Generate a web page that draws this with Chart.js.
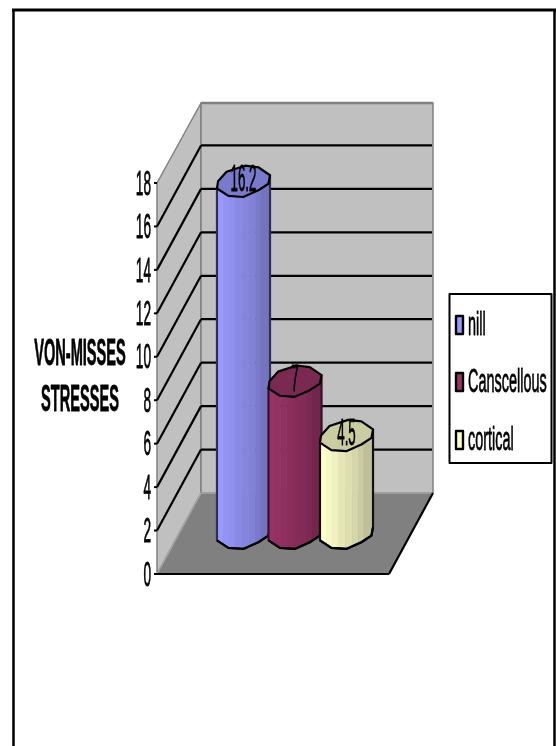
<!DOCTYPE html>
<html>
<head>
<meta charset="utf-8">
<title>Von-Misses stresses</title>
<script src="https://cdn.jsdelivr.net/npm/chart.js@4/dist/chart.umd.min.js"></script>
<style>
	html, body { margin: 0; padding: 0; background: #fff; }
	canvas { display: block; }
</style>
</head>
<body>
<canvas id="chart1" width="556" height="746"></canvas>
<script>
'use strict';

var categories = [''];
var seriesNames = ['nill', 'Canscellous', 'cortical'];
var nillValues = [16.2];
var canscellousValues = [7];
var corticalValues = [4.5];
var axisTitleLines = ['VON-MISSES', 'STRESSES'];
var yMax = 18;
var yStep = 2;

var SERIES_COLORS = ['#9999ff', '#993366', '#ffffcc'];
var SIDE_LINE_COLORS = ['#2f2f55', '#3a1228', '#111111'];
var FONT_FAMILY = '"Liberation Sans", Arial, sans-serif';

// how far the back wall sits from the front plane
var DEPTH_X = 44;
var DEPTH_Y = 81;

// outline of a cylinder end, in units of half the bar width
var CAP_SHAPE = [
	[-1, 0.26], [-0.96, -0.01], [-0.64, -0.37], [0.06, -0.6], [0.56, -0.54],
	[1, -0.24], [0.94, 0.08], [0.56, 0.33], [-0.01, 0.58], [-0.57, 0.54]
];
// facet edges across the cylinder and the shade of each facet
var FACET_EDGES = [0, 0.114, 0.22, 0.335, 0.475, 0.608, 0.72, 0.82, 1];
var FACET_SHADES = [1, 0.97, 0.94, 0.9, 0.87, 0.84, 0.8, 0.75];

var shade = function(hex, f) {
	var n = parseInt(hex.slice(1), 16);
	var r = Math.round((n >> 16 & 255) * f);
	var g = Math.round((n >> 8 & 255) * f);
	var b = Math.round((n & 255) * f);
	return 'rgb(' + r + ',' + g + ',' + b + ')';
};

// text here is tall and very condensed, canvas fonts cannot do that alone
var narrowText = function(ctx, text, x, y, size, squeeze, align, bold) {
	ctx.save();
	ctx.translate(x, y);
	ctx.scale(squeeze, 1);
	ctx.font = (bold ? 'bold ' : '') + size + 'px ' + FONT_FAMILY;
	ctx.textAlign = align;
	ctx.textBaseline = 'middle';
	ctx.fillStyle = '#000';
	ctx.strokeStyle = '#000';
	ctx.lineWidth = 0.8;
	ctx.fillText(text, 0, 0);
	ctx.strokeText(text, 0, 0);
	ctx.restore();
};

var line = function(ctx, x1, y1, x2, y2, color, width) {
	ctx.strokeStyle = color;
	ctx.lineWidth = width;
	ctx.beginPath();
	ctx.moveTo(x1, y1);
	ctx.lineTo(x2, y2);
	ctx.stroke();
};

var polygon = function(ctx, pts, fill, stroke, width) {
	ctx.beginPath();
	pts.forEach(function(p, i) {
		if (i === 0) ctx.moveTo(p[0], p[1]);
		else ctx.lineTo(p[0], p[1]);
	});
	ctx.closePath();
	if (fill) {
		ctx.fillStyle = fill;
		ctx.fill();
	}
	if (stroke) {
		ctx.strokeStyle = stroke;
		ctx.lineWidth = width;
		ctx.lineJoin = 'round';
		ctx.stroke();
	}
};

var drawPageFrame = function(ctx) {
	line(ctx, 13.5, 10, 13.5, 746, '#000', 2.5);
	line(ctx, 12, 10, 556, 10, '#000', 3);
	line(ctx, 554.5, 10, 554.5, 746, '#000', 2.5);
};

// floor, side wall, back wall and the gridlines running over them
var drawWalls = function(chart) {
	var ctx = chart.ctx;
	var area = chart.chartArea;
	var y = chart.scales.y;
	var zero = y.getPixelForValue(0);
	var top = y.getPixelForValue(yMax);
	var backL = area.left + DEPTH_X;
	var backR = area.right + DEPTH_X;
	var backZero = zero - DEPTH_Y;
	var backTop = top - DEPTH_Y + 1;

	polygon(ctx, [[area.left, top], [backL, backTop], [backL, backZero], [area.left, zero]], '#c0c0c0', '#808080', 1.5);
	polygon(ctx, [[backL, backTop], [backR, backTop], [backR, backZero], [backL, backZero]], '#c0c0c0', '#808080', 1.5);
	line(ctx, backL, backTop, backR, backTop, '#808080', 2.5);
	polygon(ctx, [[area.left, zero], [backL, backZero], [backR, backZero], [area.right, zero]], '#808080', null);
	line(ctx, backL, backZero, backR, backZero, '#a6a6a6', 1.5);
	line(ctx, area.left, zero, backL, backZero, '#a6a6a6', 1.5);

	y.ticks.forEach(function(t) {
		var py = y.getPixelForValue(t.value);
		if (t.value > 0 && t.value < yMax) {
			line(ctx, area.left, py, backL, py - DEPTH_Y, '#000', 2.2);
			line(ctx, backL, py - DEPTH_Y, backR - 1, py - DEPTH_Y, '#000', 2.2);
		}
		line(ctx, area.left - 3, py, area.left, py, '#000', 2);
		narrowText(ctx, t.label, area.left - 6, py + 2, 35, 0.39, 'right', false);
	});

	line(ctx, area.left - 1, zero, area.right, zero, '#000', 2.2);
	line(ctx, area.right, zero, backR, backZero, '#000', 2.2);
};

var drawCylinder = function(ctx, bar, color, sideColor) {
	var hw = bar.width / 2;
	var cx = bar.x + DEPTH_X / 2;
	var topY = bar.y - DEPTH_Y / 2;
	var baseY = bar.base - DEPTH_Y / 2;
	var capAt = function(cy) {
		return CAP_SHAPE.map(function(p) {
			return [cx + p[0] * hw, cy + p[1] * hw];
		});
	};
	var topCap = capAt(topY);
	var baseCap = capAt(baseY);
	// lower half of the base outline, walked from right to left
	var lower = baseCap.slice(5).concat([baseCap[0]]);
	var body = [topCap[0], topCap[5]].concat(lower);

	ctx.save();
	polygon(ctx, body, null, null);
	ctx.clip();
	FACET_SHADES.forEach(function(f, i) {
		var x1 = cx - hw + FACET_EDGES[i] * 2 * hw;
		var x2 = cx - hw + FACET_EDGES[i + 1] * 2 * hw;
		ctx.fillStyle = shade(color, f);
		ctx.fillRect(x1, topY - hw, x2 - x1 + 0.5, baseY - topY + 2 * hw);
	});
	ctx.restore();

	polygon(ctx, body, null, sideColor, 2.2);
	polygon(ctx, topCap, shade(color, 0.8), '#000', 2.2);
	ctx.strokeStyle = '#000';
	ctx.lineWidth = 2.2;
	ctx.beginPath();
	lower.forEach(function(p, i) {
		if (i === 0) ctx.moveTo(p[0], p[1]);
		else ctx.lineTo(p[0], p[1]);
	});
	ctx.stroke();
};

var drawLegend = function(chart) {
	var ctx = chart.ctx;
	var rows = [325, 382, 440];
	ctx.fillStyle = '#fff';
	ctx.fillRect(449.5, 294, 102, 169);
	ctx.strokeStyle = '#000';
	ctx.lineWidth = 2;
	ctx.strokeRect(449.5, 294, 102, 169);
	chart.data.datasets.forEach(function(ds, i) {
		ctx.fillStyle = ds.backgroundColor;
		ctx.fillRect(456, rows[i] - 9, 7, 18);
		ctx.strokeStyle = '#000';
		ctx.lineWidth = 2.4;
		ctx.strokeRect(456, rows[i] - 9, 7, 18);
		narrowText(ctx, ds.label, 468, rows[i] + 1, 34, 0.425, 'left', false);
	});
};

var cylinderPlugin = {
	id: 'cylinders',
	beforeDraw: function(chart) {
		drawPageFrame(chart.ctx);
	},
	beforeDatasetsDraw: function(chart) {
		drawWalls(chart);
	},
	// the flat bars are replaced, their geometry still comes from the scales
	beforeDatasetDraw: function() {
		return false;
	},
	afterDatasetsDraw: function(chart) {
		var ctx = chart.ctx;
		chart.data.datasets.forEach(function(ds, i) {
			var bar = chart.getDatasetMeta(i).data[0];
			drawCylinder(ctx, bar, ds.backgroundColor, SIDE_LINE_COLORS[i]);
		});
		chart.data.datasets.forEach(function(ds, i) {
			var bar = chart.getDatasetMeta(i).data[0];
			narrowText(ctx, String(ds.data[0]), bar.x + DEPTH_X / 2, bar.y - DEPTH_Y / 2 - 1, 37, 0.36, 'center', false);
		});
		axisTitleLines.forEach(function(text, i) {
			narrowText(ctx, text, 80, 355 + i * 46, 36, 0.405, 'center', true);
		});
		drawLegend(chart);
	}
};

var ctx = document.getElementById('chart1').getContext('2d');
var chart = new Chart(ctx, {
	type: 'bar',
	data: {
		labels: categories,
		datasets: [
			{ label: seriesNames[0], data: nillValues, backgroundColor: SERIES_COLORS[0] },
			{ label: seriesNames[1], data: canscellousValues, backgroundColor: SERIES_COLORS[1] },
			{ label: seriesNames[2], data: corticalValues, backgroundColor: SERIES_COLORS[2] }
		]
	},
	options: {
		responsive: false,
		animation: false,
		layout: {
			padding: { left: 157, top: 183, right: 167, bottom: 172 }
		},
		datasets: {
			bar: { categoryPercentage: 0.666, barPercentage: 1.03 }
		},
		scales: {
			x: { display: false },
			y: {
				display: false,
				min: 0,
				max: yMax,
				ticks: { stepSize: yStep }
			}
		},
		plugins: {
			legend: { display: false },
			tooltip: { enabled: false }
		}
	},
	plugins: [cylinderPlugin]
});
</script>
</body>
</html>
